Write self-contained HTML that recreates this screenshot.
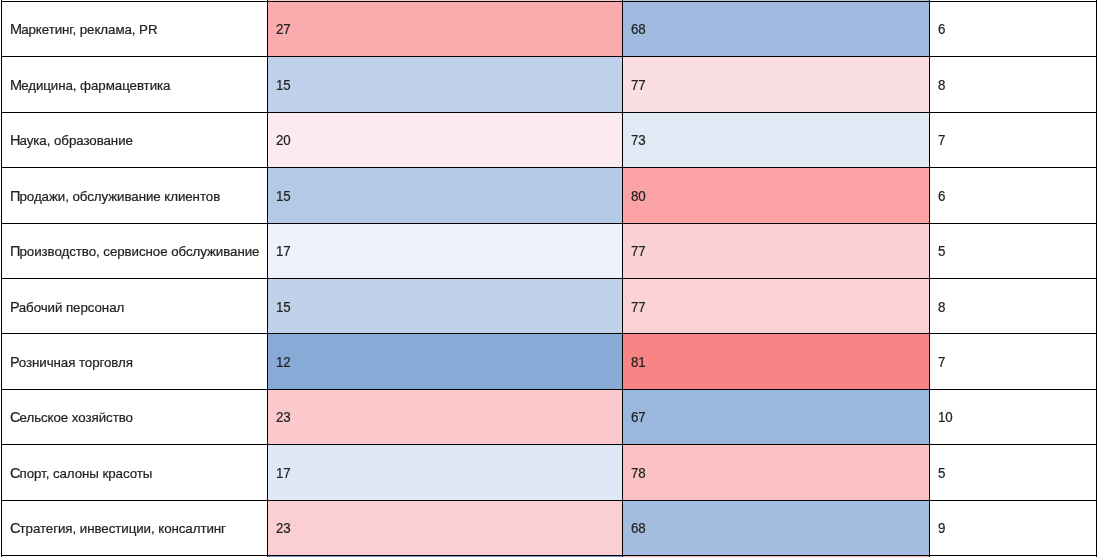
<!DOCTYPE html>
<html lang="ru"><head><meta charset="utf-8"><title>table</title>
<style>
html,body{margin:0;padding:0;background:#fff;}
body{width:1098px;height:557px;position:relative;overflow:hidden;font-family:"Liberation Sans",sans-serif;font-size:13.33px;letter-spacing:-0.07px;line-height:16px;color:#222;-webkit-text-stroke:0.2px #222;}
table,tbody,tr{display:block;margin:0;padding:0;border:0;position:static;}
.c{display:block;padding:0;position:absolute;box-sizing:border-box;white-space:nowrap;}
.c span{position:absolute;left:0;top:0;}
.l span::first-letter{font-size:14.5px;letter-spacing:-0.95px;line-height:12px;}
.n span{transform:scaleY(1.09);transform-origin:0 3.2px;}
.h{position:absolute;left:1px;width:1096px;height:1px;background:#000;}
.v{position:absolute;top:0;height:557px;width:1px;background:#000;}
</style></head><body>
<div class="c" style="left:268px;top:0px;width:354px;height:1px;background:#FAC8CA;"></div>
<div class="c" style="left:623px;top:0px;width:306px;height:1px;background:#B7CBE7;"></div>
<div class="c" style="left:268px;top:556px;width:354px;height:1px;background:#7497CD;"></div>
<div class="c" style="left:623px;top:556px;width:306px;height:1px;background:#F9ABAD;"></div>
<table><tbody>
<tr>
<td class="c l" style="left:2px;top:2px;width:265px;height:54px;background:#fff;"><span style="left:8px;top:20px;">Маркетинг, реклама, PR</span></td>
<td class="c n" style="left:268px;top:2px;width:354px;height:54px;background:#FAABAD;"><span style="left:8px;top:19px;">27</span></td>
<td class="c n" style="left:623px;top:2px;width:306px;height:54px;background:#A0BBDF;"><span style="left:8px;top:19px;">68</span></td>
<td class="c n" style="left:930px;top:2px;width:166px;height:54px;background:#fff;"><span style="left:8px;top:19px;">6</span></td>
</tr>
<tr>
<td class="c l" style="left:2px;top:57px;width:265px;height:55px;background:#fff;"><span style="left:8px;top:21px;">Медицина, фармацевтика</span></td>
<td class="c n" style="left:268px;top:57px;width:354px;height:55px;background:#BFD1EA;"><span style="left:8px;top:20px;">15</span></td>
<td class="c n" style="left:623px;top:57px;width:306px;height:55px;background:#FBDEE1;"><span style="left:8px;top:20px;">77</span></td>
<td class="c n" style="left:930px;top:57px;width:166px;height:55px;background:#fff;"><span style="left:8px;top:20px;">8</span></td>
</tr>
<tr>
<td class="c l" style="left:2px;top:113px;width:265px;height:54px;background:#fff;"><span style="left:8px;top:20px;">Наука, образование</span></td>
<td class="c n" style="left:268px;top:113px;width:354px;height:54px;background:#FCEBEE;"><span style="left:8px;top:19px;">20</span></td>
<td class="c n" style="left:623px;top:113px;width:306px;height:54px;background:#E1E9F5;"><span style="left:8px;top:19px;">73</span></td>
<td class="c n" style="left:930px;top:113px;width:166px;height:54px;background:#fff;"><span style="left:8px;top:19px;">7</span></td>
</tr>
<tr>
<td class="c l" style="left:2px;top:168px;width:265px;height:55px;background:#fff;"><span style="left:8px;top:21px;">Продажи, обслуживание клиентов</span></td>
<td class="c n" style="left:268px;top:168px;width:354px;height:55px;background:#B3C9E5;"><span style="left:8px;top:20px;">15</span></td>
<td class="c n" style="left:623px;top:168px;width:306px;height:55px;background:#FAA2A4;"><span style="left:8px;top:20px;">80</span></td>
<td class="c n" style="left:930px;top:168px;width:166px;height:55px;background:#fff;"><span style="left:8px;top:20px;">6</span></td>
</tr>
<tr>
<td class="c l" style="left:2px;top:224px;width:265px;height:54px;background:#fff;"><span style="left:8px;top:20px;">Производство, сервисное обслуживание</span></td>
<td class="c n" style="left:268px;top:224px;width:354px;height:54px;background:#EEF2FA;"><span style="left:8px;top:19px;">17</span></td>
<td class="c n" style="left:623px;top:224px;width:306px;height:54px;background:#FBD0D3;"><span style="left:8px;top:19px;">77</span></td>
<td class="c n" style="left:930px;top:224px;width:166px;height:54px;background:#fff;"><span style="left:8px;top:19px;">5</span></td>
</tr>
<tr>
<td class="c l" style="left:2px;top:279px;width:265px;height:54px;background:#fff;"><span style="left:8px;top:21px;">Рабочий персонал</span></td>
<td class="c n" style="left:268px;top:279px;width:354px;height:54px;background:#C0D2EA;"><span style="left:8px;top:20px;">15</span></td>
<td class="c n" style="left:623px;top:279px;width:306px;height:54px;background:#FBD2D5;"><span style="left:8px;top:20px;">77</span></td>
<td class="c n" style="left:930px;top:279px;width:166px;height:54px;background:#fff;"><span style="left:8px;top:20px;">8</span></td>
</tr>
<tr>
<td class="c l" style="left:2px;top:334px;width:265px;height:55px;background:#fff;"><span style="left:8px;top:21px;">Розничная торговля</span></td>
<td class="c n" style="left:268px;top:334px;width:354px;height:55px;background:#88AAD6;"><span style="left:8px;top:20px;">12</span></td>
<td class="c n" style="left:623px;top:334px;width:306px;height:55px;background:#F98486;"><span style="left:8px;top:20px;">81</span></td>
<td class="c n" style="left:930px;top:334px;width:166px;height:55px;background:#fff;"><span style="left:8px;top:20px;">7</span></td>
</tr>
<tr>
<td class="c l" style="left:2px;top:390px;width:265px;height:54px;background:#fff;"><span style="left:8px;top:20px;">Сельское хозяйство</span></td>
<td class="c n" style="left:268px;top:390px;width:354px;height:54px;background:#FBC9CC;"><span style="left:8px;top:19px;">23</span></td>
<td class="c n" style="left:623px;top:390px;width:306px;height:54px;background:#9AB7DE;"><span style="left:8px;top:19px;">67</span></td>
<td class="c n" style="left:930px;top:390px;width:166px;height:54px;background:#fff;"><span style="left:8px;top:19px;">10</span></td>
</tr>
<tr>
<td class="c l" style="left:2px;top:445px;width:265px;height:55px;background:#fff;"><span style="left:8px;top:21px;">Спорт, салоны красоты</span></td>
<td class="c n" style="left:268px;top:445px;width:354px;height:55px;background:#DFE8F5;"><span style="left:8px;top:20px;">17</span></td>
<td class="c n" style="left:623px;top:445px;width:306px;height:55px;background:#FAC0C3;"><span style="left:8px;top:20px;">78</span></td>
<td class="c n" style="left:930px;top:445px;width:166px;height:55px;background:#fff;"><span style="left:8px;top:20px;">5</span></td>
</tr>
<tr>
<td class="c l" style="left:2px;top:501px;width:265px;height:54px;background:#fff;"><span style="left:8px;top:20px;">Стратегия, инвестиции, консалтинг</span></td>
<td class="c n" style="left:268px;top:501px;width:354px;height:54px;background:#FBCED1;"><span style="left:8px;top:19px;">23</span></td>
<td class="c n" style="left:623px;top:501px;width:306px;height:54px;background:#A3BDE0;"><span style="left:8px;top:19px;">68</span></td>
<td class="c n" style="left:930px;top:501px;width:166px;height:54px;background:#fff;"><span style="left:8px;top:19px;">9</span></td>
</tr>
</tbody></table>
<div class="h" style="top:1px"></div>
<div class="h" style="top:56px"></div>
<div class="h" style="top:112px"></div>
<div class="h" style="top:167px"></div>
<div class="h" style="top:223px"></div>
<div class="h" style="top:278px"></div>
<div class="h" style="top:333px"></div>
<div class="h" style="top:389px"></div>
<div class="h" style="top:444px"></div>
<div class="h" style="top:500px"></div>
<div class="h" style="top:555px"></div>
<div class="v" style="left:1px"></div>
<div class="v" style="left:267px"></div>
<div class="v" style="left:622px"></div>
<div class="v" style="left:929px"></div>
<div class="v" style="left:1096px"></div>
</body></html>
